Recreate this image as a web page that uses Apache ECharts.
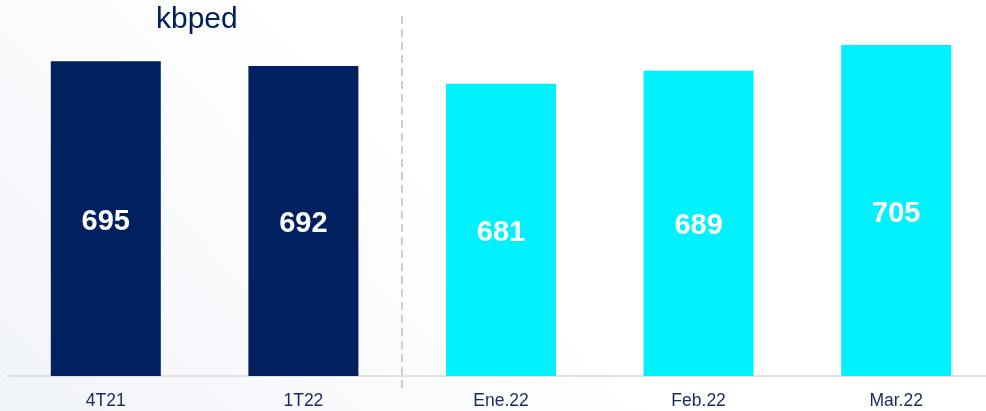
<!DOCTYPE html>
<html>
<head>
<meta charset="utf-8">
<script src="https://cdn.jsdelivr.net/npm/echarts@6/dist/echarts.min.js"></script>
<style>
html,body{margin:0;padding:0;background:#fff;overflow:hidden;width:986px;height:411px;}
#c{width:996px;height:411px;}
</style>
</head>
<body>
<div id="c"></div>
<script>
const categories = ['4T21', '1T22', 'Ene.22', 'Feb.22', 'Mar.22'];
const values = [695, 692, 681, 689, 705];
const barColors = ['#002060', '#002060', '#00F2FF', '#00F2FF', '#00F2FF'];
const unitLabel = 'kbped';

const chart = echarts.init(document.getElementById('c'), null, {renderer: 'canvas'});
chart.setOption({
  animation: false,
  backgroundColor: {
    type: 'linear', x: 0, y: 1, x2: 0.35, y2: 0.2,
    colorStops: [{offset: 0, color: '#f1f4f9'}, {offset: 1, color: '#ffffff'}]
  },
  grid: {left: 7, right: 1, top: 45, bottom: 35, containLabel: false},
  xAxis: {
    type: 'category',
    data: categories,
    axisTick: {show: false},
    axisLine: {show: true, lineStyle: {color: '#d9d9d9', width: 1.5}},
    axisLabel: {
      color: '#1b2a5a', fontSize: 17.5, margin: 16,
      fontFamily: 'Liberation Sans, Arial, sans-serif'
    }
  },
  yAxis: {type: 'value', min: 500, max: 705, show: false, splitLine: {show: false}},
  series: [{
    type: 'bar',
    barWidth: 110,
    data: values.map((v, i) => ({value: v, itemStyle: {color: barColors[i]}})),
    label: {
      show: true, position: 'inside', offset: [0, 3], color: '#ffffff',
      fontSize: 29, fontWeight: 'bold',
      fontFamily: 'Liberation Sans, Arial, sans-serif'
    }
  }],
  graphic: [
    {
      type: 'line', shape: {x1: 402, y1: 16, x2: 402, y2: 393},
      style: {stroke: '#bfbfbf', lineWidth: 1.5, lineDash: [8, 5]}
    },
    {
      type: 'text', left: 156, top: 5,
      style: {text: unitLabel, fill: '#002060', fontSize: 30, fontFamily: 'Liberation Sans, Arial, sans-serif'}
    }
  ]
});
</script>
</body>
</html>
